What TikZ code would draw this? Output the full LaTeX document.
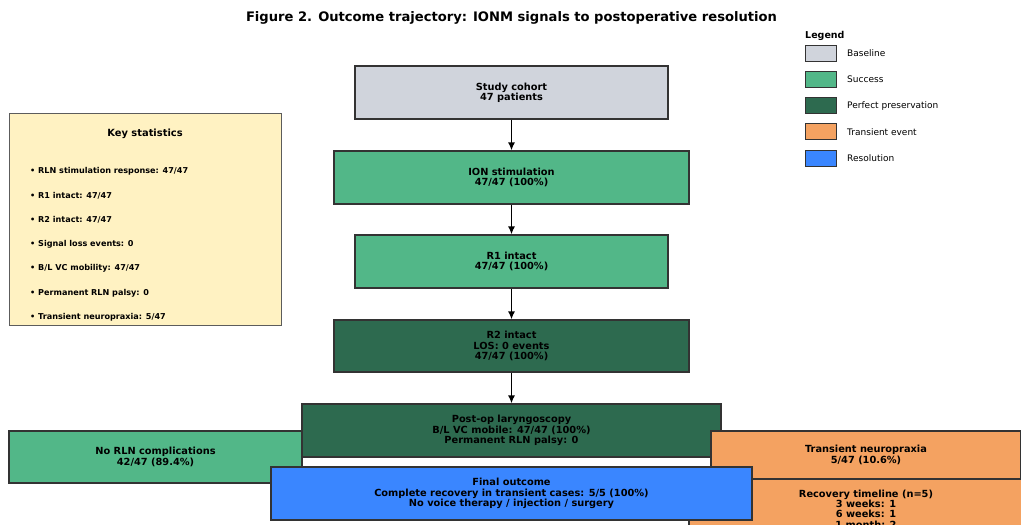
\documentclass[tikz,border=0pt]{standalone}
\usepackage{fontspec}
\setmainfont{DejaVu Sans}
\usetikzlibrary{arrows.meta}
\definecolor{baseline}{HTML}{D0D4DC}
\definecolor{success}{HTML}{52B788}
\definecolor{perfect}{HTML}{2D6A4F}
\definecolor{transient}{HTML}{F4A261}
\definecolor{resolution}{HTML}{3A86FF}
\definecolor{statsbg}{HTML}{FFF2C2}
\definecolor{edgegray}{HTML}{333333}
\tikzset{
    stage/.style = {draw=edgegray, line width=1.1pt, text=black, align=center, inner sep=0pt,
        font=\bfseries\fontsize{9.8}{10.4}\selectfont},
    flow/.style = {-{Latex[length=8pt,width=7pt]}, line width=1.8pt},
    hidden link/.style = {line width=1.3pt},
}
\tikzset{
    stat item/.style = {anchor=west, inner sep=0pt, font=\bfseries\fontsize{8.1}{9}\selectfont},
    swatch/.style = {draw=edgegray, line width=1pt, minimum width=31pt, minimum height=16pt, inner sep=0pt},
    legend text/.style = {anchor=west, inner sep=0pt, font=\fontsize{9}{10}\selectfont},
}

\begin{document}
\begin{tikzpicture}[x=1pt, y=-1pt]
    \useasboundingbox[fill=white] (0,0) rectangle (1021,525);

    \node (title) at (511.5,18) {\bfseries\fontsize{13.1}{15}\selectfont Figure 2. Outcome trajectory: IONM signals to postoperative resolution};

    \node (stats) [draw=edgegray!80, line width=1pt, fill=statsbg, minimum width=272pt, minimum height=212pt] at (145,219) {};
    \node (stats title) at (145,134) {\bfseries\fontsize{9.9}{11}\selectfont Key statistics};
    \foreach \txt [count=\i from 0] in {RLN stimulation response: 47/47, R1 intact: 47/47, R2 intact: 47/47,
        Signal loss events: 0, B/L VC mobility: 47/47, Permanent RLN palsy: 0, Transient neuropraxia: 5/47}
        \node (stat\i) [stat item] at (30,171.5+24.3*\i) {• \txt};

    \node (legend) [anchor=west, inner sep=0pt] at (805,36) {\bfseries\fontsize{9.5}{11}\selectfont Legend};
    \foreach \col/\txt [count=\i from 0] in {baseline/Baseline, success/Success, perfect/Perfect preservation,
        transient/Transient event, resolution/Resolution} {
        \node (key\i) [swatch, fill=\col] at (820.5,53+26.3*\i) {};
        \node (keytext\i) [legend text] at (847,53+26.3*\i) {\txt};
    }

    \node (cohort) [stage, fill=baseline, minimum width=313pt, minimum height=53pt] at (511.5,92.5) {Study cohort\\47 patients};
    \node (ion) [stage, fill=success, minimum width=355pt, minimum height=53pt] at (511.5,177.5) {ION stimulation\\47/47 (100\%)};
    \node (r1) [stage, fill=success, minimum width=313pt, minimum height=53pt] at (511.5,261.5) {R1 intact\\47/47 (100\%)};
    \node (r2) [stage, fill=perfect, minimum width=355pt, minimum height=52pt] at (511.5,346) {R2 intact\\LOS: 0 events\\47/47 (100\%)};

    \coordinate (orange end) at (711,457);
    \coordinate (blue start) at (250,483);
    \draw [hidden link, transient] (565,457) -- (orange end);
    \draw [hidden link, resolution] (blue start) -- (271,483);
    \draw [hidden link, resolution] (752,479) -- (866,479);

    \node (postop) [stage, fill=perfect, minimum width=419pt, minimum height=53pt] at (511.5,430.5) {Post-op laryngoscopy\\B/L VC mobile: 47/47 (100\%)\\Permanent RLN palsy: 0};
    \node (norln) [stage, fill=success, minimum width=293pt, minimum height=52pt] at (155.5,457) {No RLN complications\\42/47 (89.4\%)};
    \node (transient) [stage, fill=transient, minimum width=310pt, minimum height=48pt] at (866,455) {Transient neuropraxia\\5/47 (10.6\%)};
    \node (recovery) [stage, fill=transient, minimum width=354pt, inner ysep=10pt, anchor=north] at (866,479) {Recovery timeline (n=5)\\3 weeks: 1\\6 weeks: 1\\1 month: 2};
    \node (final) [stage, fill=resolution, minimum width=481pt, minimum height=53pt] at (511.5,493.5) {Final outcome\\Complete recovery in transient cases: 5/5 (100\%)\\No voice therapy / injection / surgery};

    \draw [flow] (cohort) -- (ion);
    \draw [flow] (ion) -- (r1);
    \draw [flow] (r1) -- (r2);
    \draw [flow] (r2) -- (postop);
\end{tikzpicture}
\end{document}
